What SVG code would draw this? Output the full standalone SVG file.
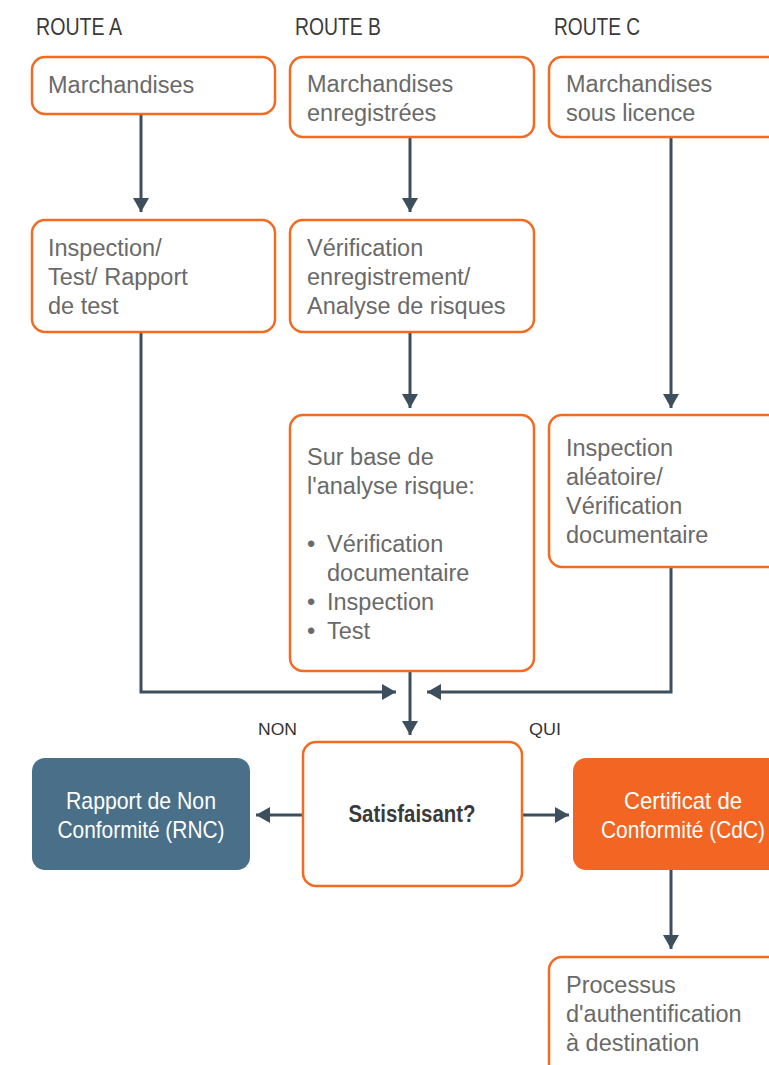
<svg xmlns="http://www.w3.org/2000/svg" width="769" height="1065" viewBox="0 0 769 1065">
<defs>
<marker id="ah" markerUnits="userSpaceOnUse" markerWidth="16" markerHeight="16" viewBox="0 0 14 16" refX="14" refY="8" orient="auto">
<path d="M0,0 L14,8 L0,16 Z" fill="#3d4f5c"/>
</marker>
</defs>
<style>
.box{fill:#fff;stroke:#f26b21;stroke-width:2.5}
.t{font-family:"Liberation Sans",Arial,sans-serif;font-size:23.5px;fill:#6a6a6a}
.hd{font-family:"Liberation Sans",Arial,sans-serif;font-size:23px;fill:#3a3a3a}
.lbl{font-family:"Liberation Sans",Arial,sans-serif;font-size:17px;fill:#333}
.w{font-family:"Liberation Sans",Arial,sans-serif;font-size:24px;fill:#fff}
.c{fill:none;stroke:#3d4f5c;stroke-width:3;marker-end:url(#ah)}
</style>
<rect width="769" height="1065" fill="#fff"/>
<g id="headers">
<text class="hd" x="36" y="35" textLength="86" lengthAdjust="spacingAndGlyphs">ROUTE A</text>
<text class="hd" x="295" y="35" textLength="86" lengthAdjust="spacingAndGlyphs">ROUTE B</text>
<text class="hd" x="554" y="35" textLength="86" lengthAdjust="spacingAndGlyphs">ROUTE C</text>
</g>
<g id="connectors">
<path class="c" d="M141,114 V212"/>
<path class="c" d="M410,137 V212"/>
<path class="c" d="M671,137 V408"/>
<path class="c" d="M410,332 V408"/>
<path class="c" d="M141,332 V692 H396"/>
<path class="c" d="M671,567 V692 H427"/>
<path class="c" d="M410,671 V735"/>
<path class="c" d="M303,815 H256"/>
<path class="c" d="M522,815 H569"/>
<path class="c" d="M671,870 V949"/>
<text class="lbl" x="258" y="735" textLength="39" lengthAdjust="spacingAndGlyphs">NON</text>
<text class="lbl" x="529" y="735" textLength="32" lengthAdjust="spacingAndGlyphs">QUI</text>
</g>
<g id="a1">
<rect class="box" x="32" y="57" width="243" height="57" rx="13"/>
<text class="t" x="48" y="93">Marchandises</text>
</g>
<g id="b1">
<rect class="box" x="290" y="57" width="244" height="80" rx="13"/>
<text class="t" x="307" y="92">Marchandises</text>
<text class="t" x="307" y="121">enregistrées</text>
</g>
<g id="c1">
<rect class="box" x="549" y="57" width="245" height="80" rx="13"/>
<text class="t" x="566" y="92">Marchandises</text>
<text class="t" x="566" y="121">sous licence</text>
</g>
<g id="a2">
<rect class="box" x="32" y="220" width="243" height="112" rx="13"/>
<text class="t" x="48" y="256">Inspection/</text>
<text class="t" x="48" y="285">Test/ Rapport</text>
<text class="t" x="48" y="314">de test</text>
</g>
<g id="b2">
<rect class="box" x="290" y="220" width="244" height="112" rx="13"/>
<text class="t" x="307" y="256">Vérification</text>
<text class="t" x="307" y="285">enregistrement/</text>
<text class="t" x="307" y="314">Analyse de risques</text>
</g>
<g id="b3">
<rect class="box" x="290" y="415" width="244" height="256" rx="13"/>
<text class="t" x="307" y="465">Sur base de</text>
<text class="t" x="307" y="494">l'analyse risque:</text>
<text class="t" x="307" y="552">•</text>
<text class="t" x="327" y="552">Vérification</text>
<text class="t" x="327" y="581">documentaire</text>
<text class="t" x="307" y="610">•</text>
<text class="t" x="327" y="610">Inspection</text>
<text class="t" x="307" y="639">•</text>
<text class="t" x="327" y="639">Test</text>
</g>
<g id="c3">
<rect class="box" x="549" y="415" width="245" height="152" rx="13"/>
<text class="t" x="566" y="456">Inspection</text>
<text class="t" x="566" y="485">aléatoire/</text>
<text class="t" x="566" y="514">Vérification</text>
<text class="t" x="566" y="543">documentaire</text>
</g>
<g id="decision">
<rect class="box" x="303" y="742" width="219" height="144" rx="13"/>
<text x="412" y="822" text-anchor="middle" textLength="127" lengthAdjust="spacingAndGlyphs" style="font-family:'Liberation Sans',Arial,sans-serif;font-size:23px;font-weight:bold;fill:#3a3a3a">Satisfaisant?</text>
</g>
<g id="rnc">
<rect x="32" y="758" width="218" height="112" rx="13" fill="#4a7089"/>
<text class="w" x="141" y="809" text-anchor="middle" textLength="150" lengthAdjust="spacingAndGlyphs">Rapport de Non</text>
<text class="w" x="141" y="838" text-anchor="middle" textLength="167" lengthAdjust="spacingAndGlyphs">Conformité (RNC)</text>
</g>
<g id="cdc">
<rect x="573" y="758" width="222" height="112" rx="13" fill="#f26522"/>
<text class="w" x="683" y="809" text-anchor="middle" textLength="118" lengthAdjust="spacingAndGlyphs">Certificat de</text>
<text class="w" x="683" y="838" text-anchor="middle" textLength="164" lengthAdjust="spacingAndGlyphs">Conformité (CdC)</text>
</g>
<g id="processus">
<rect class="box" x="549" y="957" width="245" height="125" rx="13"/>
<text class="t" x="566" y="993">Processus</text>
<text class="t" x="566" y="1022">d'authentification</text>
<text class="t" x="566" y="1051">à destination</text>
</g>
</svg>
